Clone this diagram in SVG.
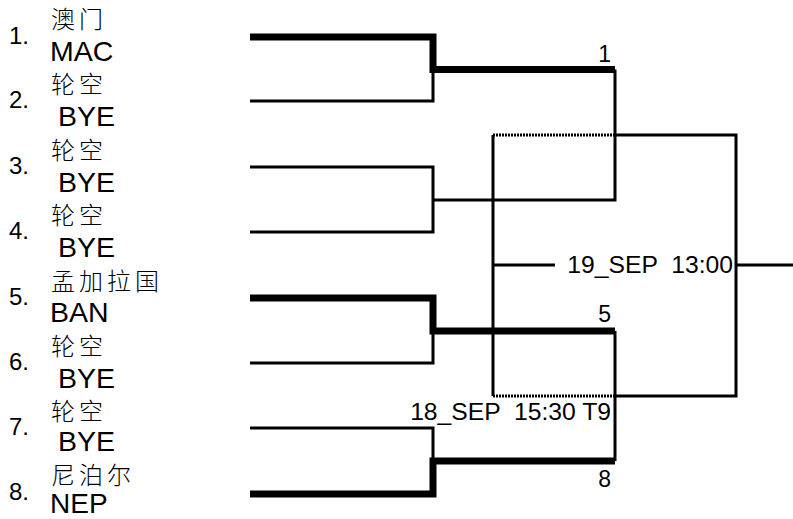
<svg xmlns="http://www.w3.org/2000/svg" width="793" height="519" viewBox="0 0 793 519">
<style>
.bg{fill:#fff}
.thin{fill:none;stroke:#000;stroke-width:3}
.thick{fill:none;stroke:#000;stroke-width:7;stroke-linejoin:miter}
.dot{fill:none;stroke:#000;stroke-width:3;stroke-dasharray:2 1}
.num{font-family:"Liberation Sans",Arial,sans-serif;font-size:24px;fill:#000}
.cn{font-family:"Noto Sans CJK SC",sans-serif;font-size:24px;font-weight:300;letter-spacing:4px;fill:#000}
.en{font-family:"Liberation Sans",Arial,sans-serif;font-size:28.5px;fill:#000}
.lbl{font-family:"Liberation Sans",Arial,sans-serif;font-size:24.7px;fill:#000}
.sm{font-family:"Liberation Sans",Arial,sans-serif;font-size:23px;fill:#000;text-anchor:end}
</style>
<rect class="bg" x="0" y="0" width="793" height="519"/>
<g id="connectors">
<path class="thick" d="M250,37 H433 V69.5 H615"/>
<path class="thin" d="M250,101 H433 V72"/>
<path class="thin" d="M250,167 H433 V232 H250"/>
<path class="thin" d="M433,200 H615 V69.5"/>
<path class="thick" d="M250,298 H433 V331 H615"/>
<path class="thin" d="M250,363 H433 V334"/>
<path class="thin" d="M250,428 H433 V458"/>
<path class="thick" d="M250,494 H433 V461 H615"/>
<path class="thin" d="M615,331 V461"/>
<path class="thin" d="M615,135 H736 V396 H615"/>
<path class="thin" d="M736,265 H793"/>
<path class="thin" d="M493,135 V396"/>
<path class="thin" d="M493,265 H555"/>
<path class="dot" d="M493,135 H615"/>
<path class="dot" d="M493,396 H615"/>
</g>
<g id="p1"><text class="num" x="9" y="44">1.</text><text class="cn" x="51" y="28">澳门</text><text class="en" x="50" y="61">MAC</text></g>
<g id="p2"><text class="num" x="9" y="108">2.</text><text class="cn" x="51" y="93">轮空</text><text class="en" x="50" y="126" xml:space="preserve"> BYE</text></g>
<g id="p3"><text class="num" x="9" y="174">3.</text><text class="cn" x="51" y="159">轮空</text><text class="en" x="50" y="192" xml:space="preserve"> BYE</text></g>
<g id="p4"><text class="num" x="9" y="239">4.</text><text class="cn" x="51" y="224">轮空</text><text class="en" x="50" y="257" xml:space="preserve"> BYE</text></g>
<g id="p5"><text class="num" x="9" y="305">5.</text><text class="cn" x="51" y="290">孟加拉国</text><text class="en" x="50" y="322">BAN</text></g>
<g id="p6"><text class="num" x="9" y="370">6.</text><text class="cn" x="51" y="355">轮空</text><text class="en" x="50" y="388" xml:space="preserve"> BYE</text></g>
<g id="p7"><text class="num" x="9" y="435">7.</text><text class="cn" x="51" y="420">轮空</text><text class="en" x="50" y="451" xml:space="preserve"> BYE</text></g>
<g id="p8"><text class="num" x="9" y="500">8.</text><text class="cn" x="51" y="484">尼泊尔</text><text class="en" x="50" y="513" style="font-size:28px">NEP</text></g>
<g id="m1"><text class="sm" x="611" y="62">1</text></g>
<g id="m5"><text class="sm" x="611" y="322">5</text></g>
<g id="m8"><text class="sm" x="611" y="487">8</text></g>
<g id="sf"><text class="lbl" x="611" y="420" text-anchor="end" xml:space="preserve">18_SEP  15:30 T9</text></g>
<g id="final"><text class="lbl" x="733" y="273" text-anchor="end" xml:space="preserve">19_SEP  13:00</text></g>
</svg>
